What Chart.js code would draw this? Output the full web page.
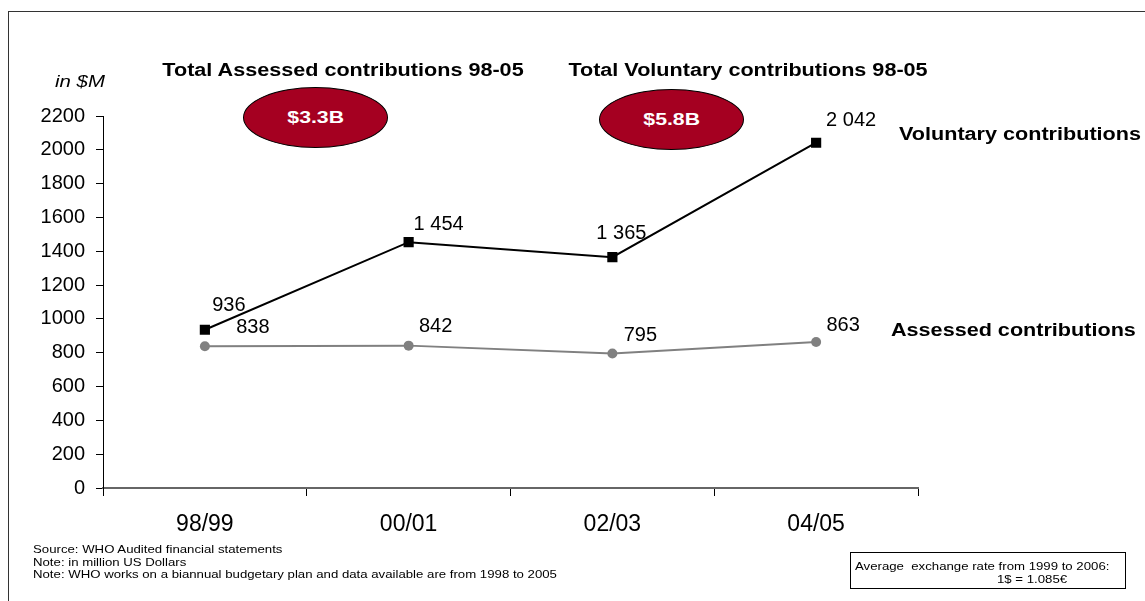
<!DOCTYPE html>
<html>
<head>
<meta charset="utf-8">
<script src="https://cdn.jsdelivr.net/npm/chart.js@4"></script>
<style>
  body { margin: 0; background: #fff; font-family: "Liberation Sans", Arial, sans-serif; }
  #wrap { position: relative; width: 1145px; height: 601px; overflow: hidden; }
  #frame { position: absolute; left: 8px; top: 11px; width: 1200px; height: 700px; border: 1px solid #333; }
  canvas { position: absolute; left: 0; top: 0; }
  .t { position: absolute; white-space: nowrap; color: #000; transform-origin: left center; transform: scaleX(1.2); }
  .head { font-size: 18px; font-weight: bold; transform: translateX(-50%) scaleX(1.2); transform-origin: center; }
  .oval { position: absolute; width: 145px; height: 61px; border-radius: 50%; background: #a50021; border: 1px solid #000;
          color: #fff; font-weight: bold; font-size: 17px; display: flex; align-items: center; justify-content: center; box-sizing: border-box; }
  .oval span { display: inline-block; transform: scaleX(1.25); }
  .note { font-size: 11px; line-height: 12.5px; }
  #fx { position: absolute; left: 850px; top: 552px; width: 276px; height: 37px; border: 1px solid #000;
        font-size: 11px; line-height: 12px; box-sizing: border-box; }
  #fx span { position: absolute; white-space: nowrap; transform-origin: left center; transform: scaleX(1.2); }
</style>
</head>
<body>
<div id="wrap">
  <div id="frame"></div>
  <canvas id="c" width="1145" height="601"></canvas>
  <div class="t" style="left:55px;top:72px;font-size:17px;font-style:italic;">in $M</div>
  <div class="t head" style="left:343px;top:60px;">Total Assessed contributions 98-05</div>
  <div class="t head" style="left:748px;top:60px;">Total Voluntary contributions 98-05</div>
  <div class="oval" style="left:243px;top:87px;"><span>$3.3B</span></div>
  <div class="oval" style="left:599px;top:89px;"><span>$5.8B</span></div>
  <div class="t" style="left:899px;top:124px;font-size:18px;font-weight:bold;">Voluntary contributions</div>
  <div class="t" style="left:891px;top:320px;font-size:18px;font-weight:bold;">Assessed contributions</div>
  <div class="t note" style="left:33px;top:543px;">Source: WHO Audited financial statements<br>Note: in million US Dollars<br>Note: WHO works on a biannual budgetary plan and data available are from 1998 to 2005</div>
  <div id="fx">
    <span style="left:4px;top:7px;">Average&nbsp; exchange rate from 1999 to 2006:</span>
    <span style="left:146px;top:20px;">1$ = 1.085€</span>
  </div>
</div>
<script>
const periods = ["98/99", "00/01", "02/03", "04/05"];
const voluntary = [936, 1454, 1365, 2042];
const assessed = [838, 842, 795, 863];
const valueText = v => v >= 1000 ? Math.floor(v / 1000) + " " + String(v % 1000).padStart(3, "0") : String(v);

// label offsets from each point, in px
const labelShift = [
  [[24, -24], [30, -18], [9, -24], [35, -22]],
  [[48, -19], [27, -19], [28, -18], [27, -17]],
];

const pointLabels = {
  id: "pointLabels",
  afterDatasetsDraw(chart) {
    const ctx = chart.ctx;
    ctx.save();
    ctx.font = "20px 'Liberation Sans', Arial, sans-serif";
    ctx.fillStyle = "#000";
    ctx.textAlign = "center";
    ctx.textBaseline = "middle";
    chart.data.datasets.forEach((ds, i) => {
      chart.getDatasetMeta(i).data.forEach((pt, j) => {
        const [dx, dy] = labelShift[i][j];
        ctx.fillText(valueText(ds.data[j]), pt.x + dx, pt.y + dy);
      });
    });
    ctx.restore();
  },
};

new Chart(document.getElementById("c").getContext("2d"), {
  type: "line",
  data: {
    labels: periods,
    datasets: [
      {
        label: "Voluntary contributions",
        data: voluntary,
        borderColor: "#000",
        backgroundColor: "#000",
        borderWidth: 2,
        pointStyle: "rect",
        pointRadius: 7.2,
        pointBorderWidth: 0,
      },
      {
        label: "Assessed contributions",
        data: assessed,
        borderColor: "#808080",
        backgroundColor: "#808080",
        borderWidth: 2,
        pointStyle: "circle",
        pointRadius: 5,
        pointBorderWidth: 0,
      },
    ],
  },
  options: {
    responsive: false,
    animation: false,
    layout: { padding: { left: 0, top: 116, right: 227, bottom: 0 } },
    plugins: { legend: { display: false }, tooltip: { enabled: false } },
    scales: {
      x: {
        offset: true,
        afterFit: s => { s.height = 113; },
        border: { color: "#666", width: 2 },
        grid: { offset: true, drawOnChartArea: false, color: "#000", tickLength: 8 },
        ticks: { color: "#000", padding: 15, font: { size: 23, family: "'Liberation Sans', Arial" } },
      },
      y: {
        min: 0,
        max: 2200,
        afterFit: s => { s.width = 103; },
        border: { color: "#000", width: 1 },
        grid: { drawOnChartArea: false, color: "#000", tickLength: 7 },
        ticks: {
          stepSize: 200,
          color: "#000",
          padding: 11,
          font: { size: 20, family: "'Liberation Sans', Arial" },
          callback: v => String(v),
        },
      },
    },
  },
  plugins: [pointLabels],
});
</script>
</body>
</html>
